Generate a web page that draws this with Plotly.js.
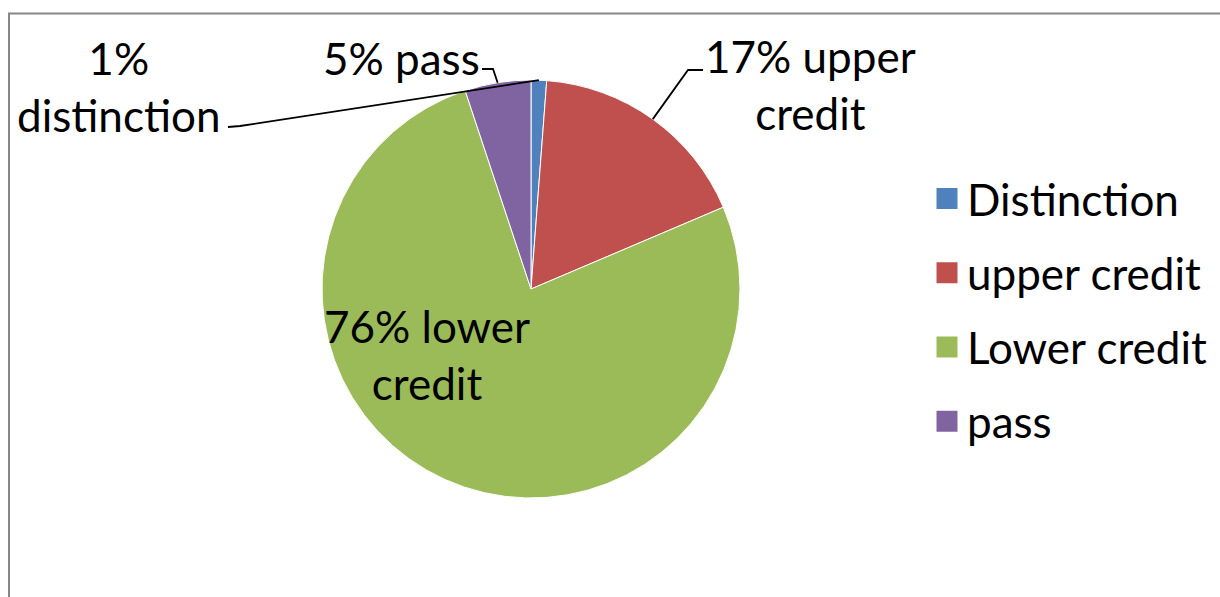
<!DOCTYPE html>
<html>
<head>
<meta charset="utf-8">
<script src="https://cdn.plot.ly/plotly-3.0.1.min.js"></script>
<style>html,body{margin:0;padding:0;background:#fff;}#chart{width:1220px;height:597px;}</style>
</head>
<body>
<div id="chart"></div>
<script>
// ---- data ----
const categories = ['Distinction', 'upper credit', 'Lower credit', 'pass'];
const labelNames = ['distinction', 'upper credit', 'lower credit', 'pass'];
const values = [1.2, 17.4, 76.3, 5.1];
const colors = ['#4F81BD', '#C0504D', '#9BBB59', '#8064A2'];

// ---- layout geometry (pixels) ----
const W = 1220, H = 597;
const cx = 531, cy = 289, r = 209;
const FONT = 'Lato, "Open Sans", sans-serif';
const FS = 44;
const px = x => x / W;
const py = y => 1 - y / H;

const total = values.reduce((a, b) => a + b, 0);
const pct = values.map(v => Math.round(v / total * 100));
const labelText = [
  pct[0] + '%<br>' + labelNames[0],
  pct[1] + '% upper<br>credit',
  pct[2] + '% lower<br>credit',
  pct[3] + '% ' + labelNames[3]
];
// label centres and leader start / elbow points
const labelPos = [
  {x: 119, y: 87, start: [228, 127], elbow: [240, 126]},
  {x: 811, y: 85, start: [703, 70], elbow: [688, 70]},
  {x: 427, y: 355, start: null},
  {x: 401, y: 58, start: [482, 69], elbow: [493, 69]}
];

// edge points at the middle angle of each slice
let cum = 0;
const edge = values.map(v => {
  const mid = (cum + v / 2) / total;
  cum += v;
  const th = 2 * Math.PI * mid;
  return [cx + r * Math.sin(th), cy - r * Math.cos(th)];
});

const annotations = labelText.map((t, i) => ({
  text: t, xref: 'paper', yref: 'paper',
  x: px(labelPos[i].x), y: py(labelPos[i].y),
  xanchor: 'center', yanchor: 'middle', showarrow: false, align: 'center',
  font: {family: FONT, size: FS, color: '#000'}
}));

const shapes = [{
  type: 'rect', xref: 'paper', yref: 'paper',
  x0: px(9), x1: px(1240), y0: py(620), y1: py(13.5),
  line: {color: '#868686', width: 2}, fillcolor: 'rgba(0,0,0,0)', layer: 'below'
}];
labelPos.forEach((p, i) => {
  if (!p.start) return;
  const e = edge[i];
  shapes.push({
    type: 'path', xref: 'paper', yref: 'paper',
    path: `M ${px(p.start[0])} ${py(p.start[1])} L ${px(p.elbow[0])} ${py(p.elbow[1])} L ${px(e[0])} ${py(e[1])}`,
    line: {color: '#000', width: 1.8}
  });
});

const pieTrace = {
  type: 'pie', values: values, labels: categories, sort: false,
  direction: 'clockwise', rotation: 0, textinfo: 'none', showlegend: false,
  marker: {colors: colors, line: {color: '#ffffff', width: 1}},
  domain: {x: [px(cx - r), px(cx + r)], y: [py(cy + r), py(cy - r)]},
  hoverinfo: 'label+percent'
};

// legend entries
const legendTraces = categories.map((c, i) => ({
  type: 'scatter', mode: 'markers', x: [null], y: [null], name: c,
  legendgroup: 'g' + i, showlegend: true,
  marker: {symbol: 'square', size: 16, color: colors[i], line: {color: colors[i], width: 5}}
}));

const layout = {
  width: W, height: H,
  margin: {l: 0, r: 0, t: 0, b: 0},
  paper_bgcolor: '#fff', plot_bgcolor: '#fff',
  xaxis: {visible: false}, yaxis: {visible: false},
  showlegend: true,
  legend: {
    x: px(927), y: py(310), xanchor: 'left', yanchor: 'middle',
    font: {family: FONT, size: FS, color: '#000'},
    tracegroupgap: 14, bgcolor: 'rgba(0,0,0,0)'
  },
  annotations: annotations,
  shapes: shapes
};

Plotly.newPlot('chart', [pieTrace].concat(legendTraces), layout, {displayModeBar: false, staticPlot: true});
</script>
</body>
</html>
